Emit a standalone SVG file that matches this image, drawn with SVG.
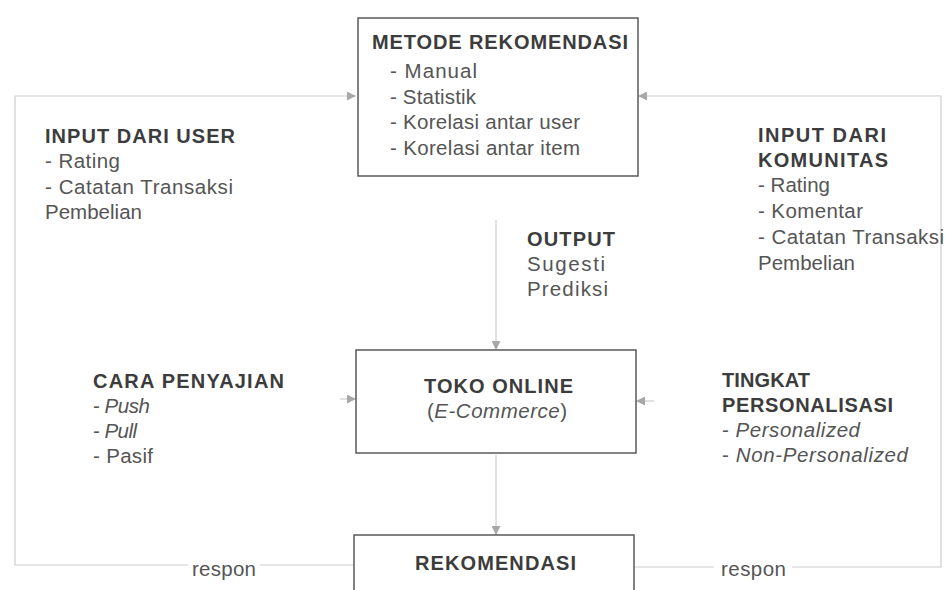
<svg xmlns="http://www.w3.org/2000/svg" width="946" height="590" viewBox="0 0 946 590">
<defs>
<marker id="ah" viewBox="0 0 10 10" refX="10" refY="5" markerWidth="10" markerHeight="9" orient="auto" markerUnits="userSpaceOnUse"><path d="M0,0 L10,5 L0,10 z" fill="#a8a8a8"/></marker>
<style>
text{font-family:"Liberation Sans",Arial,sans-serif;font-size:20.5px;fill:#555}
.b{font-weight:bold;font-size:20px;fill:#3c3c3c}
.i{font-style:italic}
.box{fill:#fff;stroke:#5a5a5a;stroke-width:1.5}
.c{fill:none;stroke:#cdcdcd;stroke-width:1.2}
</style>
</defs>
<rect width="946" height="590" fill="#fff"/>
<g id="connectors">
<path class="c" d="M260,565 H354"/>
<path class="c" d="M188,565 H15 V96 H356" marker-end="url(#ah)"/>
<path class="c" d="M634,567 H714"/>
<path class="c" d="M792,567 H941 V96 H638" marker-end="url(#ah)"/>
<path class="c" d="M496,220 V350" marker-end="url(#ah)"/>
<path class="c" d="M496,455 V535" marker-end="url(#ah)"/>
<path class="c" d="M340,399 H356" marker-end="url(#ah)"/>
<path class="c" d="M654,401 H636" marker-end="url(#ah)"/>
</g>
<g id="metode">
<rect class="box" x="358" y="18" width="280" height="158"/>
<text class="b" x="372" y="49" textLength="256">METODE REKOMENDASI</text>
<text x="390" y="78" textLength="87">- Manual</text>
<text x="390" y="103.5" textLength="86">- Statistik</text>
<text x="390" y="129" textLength="190">- Korelasi antar user</text>
<text x="390" y="155" textLength="190">- Korelasi antar item</text>
</g>
<g id="input-user">
<text class="b" x="45" y="143" textLength="190">INPUT DARI USER</text>
<text x="45" y="168" textLength="75">- Rating</text>
<text x="45" y="194" textLength="188">- Catatan Transaksi</text>
<text x="45" y="219" textLength="97">Pembelian</text>
</g>
<g id="input-komunitas">
<text class="b" x="758" y="142" textLength="128">INPUT DARI</text>
<text class="b" x="758" y="167" textLength="130">KOMUNITAS</text>
<text x="758" y="192" textLength="72">- Rating</text>
<text x="758" y="218" textLength="105">- Komentar</text>
<text x="758" y="244" textLength="186">- Catatan Transaksi</text>
<text x="758" y="270" textLength="97">Pembelian</text>
</g>
<g id="output">
<text class="b" x="527" y="246" textLength="88">OUTPUT</text>
<text x="527" y="271" textLength="78">Sugesti</text>
<text x="527" y="296" textLength="81">Prediksi</text>
</g>
<g id="toko">
<rect class="box" x="356" y="350" width="280" height="103"/>
<text class="b" x="424" y="393" textLength="149">TOKO ONLINE</text>
<text x="427" y="418" textLength="140">(<tspan class="i">E-Commerce</tspan>)</text>
</g>
<g id="cara">
<text class="b" x="93" y="388" textLength="191">CARA PENYAJIAN</text>
<text x="93" y="413" textLength="57">- <tspan class="i">Push</tspan></text>
<text x="93" y="438" textLength="44">- <tspan class="i">Pull</tspan></text>
<text x="93" y="463" textLength="60">- Pasif</text>
</g>
<g id="tingkat">
<text class="b" x="722" y="387" textLength="88">TINGKAT</text>
<text class="b" x="722" y="412" textLength="171">PERSONALISASI</text>
<text x="722" y="437" textLength="138">- <tspan class="i">Personalized</tspan></text>
<text x="722" y="462" textLength="186">- <tspan class="i">Non-Personalized</tspan></text>
</g>
<g id="rekomendasi">
<rect class="box" x="354" y="535" width="280" height="70"/>
<text class="b" x="415" y="570" textLength="161">REKOMENDASI</text>
</g>
<g id="respon">
<text x="192" y="576" textLength="64">respon</text>
<text x="721" y="576" textLength="65">respon</text>
</g>
</svg>
